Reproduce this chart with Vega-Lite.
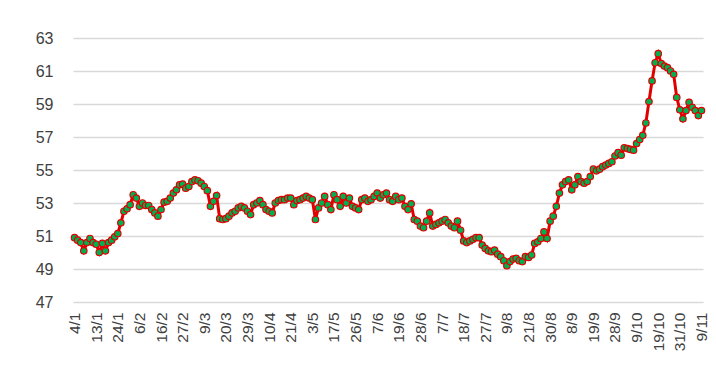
{
  "$schema": "https://vega.github.io/schema/vega-lite/v6.json",
  "width": 630,
  "height": 264,
  "autosize": "none",
  "padding": {"left": 73, "top": 38, "right": 13, "bottom": 65},
  "background": "white",
  "config": {"view": {"stroke": null}, "font": "Liberation Sans"},
  "data": {"values": [
    {"n":0,"v":50.9},{"n":1,"v":50.75},{"n":2,"v":50.6},{"n":3,"v":50.1},{"n":4,"v":50.6},{"n":5,"v":50.85},{"n":6,"v":50.6},{"n":7,"v":50.5},{"n":8,"v":50.0},{"n":9,"v":50.55},
    {"n":10,"v":50.1},{"n":11,"v":50.6},{"n":12,"v":50.75},{"n":13,"v":50.95},{"n":14,"v":51.15},{"n":15,"v":51.8},{"n":16,"v":52.5},{"n":17,"v":52.65},{"n":18,"v":52.9},{"n":19,"v":53.5},
    {"n":20,"v":53.3},{"n":21,"v":52.8},{"n":22,"v":53.0},{"n":23,"v":52.85},{"n":24,"v":52.85},{"n":25,"v":52.6},{"n":26,"v":52.4},{"n":27,"v":52.2},{"n":28,"v":52.6},{"n":29,"v":53.05},
    {"n":30,"v":53.1},{"n":31,"v":53.3},{"n":32,"v":53.6},{"n":33,"v":53.8},{"n":34,"v":54.1},{"n":35,"v":54.15},{"n":36,"v":53.9},{"n":37,"v":54.0},{"n":38,"v":54.3},{"n":39,"v":54.4},
    {"n":40,"v":54.35},{"n":41,"v":54.2},{"n":42,"v":54.0},{"n":43,"v":53.75},{"n":44,"v":52.8},{"n":45,"v":53.1},{"n":46,"v":53.45},{"n":47,"v":52.05},{"n":48,"v":52.0},{"n":49,"v":52.05},
    {"n":50,"v":52.2},{"n":51,"v":52.4},{"n":52,"v":52.5},{"n":53,"v":52.7},{"n":54,"v":52.8},{"n":55,"v":52.7},{"n":56,"v":52.5},{"n":57,"v":52.3},{"n":58,"v":52.9},{"n":59,"v":53.0},
    {"n":60,"v":53.15},{"n":61,"v":52.9},{"n":62,"v":52.6},{"n":63,"v":52.5},{"n":64,"v":52.4},{"n":65,"v":53.0},{"n":66,"v":53.15},{"n":67,"v":53.2},{"n":68,"v":53.2},{"n":69,"v":53.3},
    {"n":70,"v":53.3},{"n":71,"v":52.9},{"n":72,"v":53.15},{"n":73,"v":53.2},{"n":74,"v":53.3},{"n":75,"v":53.4},{"n":76,"v":53.3},{"n":77,"v":53.2},{"n":78,"v":52.0},{"n":79,"v":52.7},
    {"n":80,"v":53.0},{"n":81,"v":53.4},{"n":82,"v":52.9},{"n":83,"v":52.6},{"n":84,"v":53.5},{"n":85,"v":53.2},{"n":86,"v":52.8},{"n":87,"v":53.4},{"n":88,"v":53.0},{"n":89,"v":53.3},
    {"n":90,"v":52.8},{"n":91,"v":52.7},{"n":92,"v":52.6},{"n":93,"v":53.2},{"n":94,"v":53.3},{"n":95,"v":53.1},{"n":96,"v":53.2},{"n":97,"v":53.4},{"n":98,"v":53.6},{"n":99,"v":53.3},
    {"n":100,"v":53.5},{"n":101,"v":53.6},{"n":102,"v":53.2},{"n":103,"v":53.1},{"n":104,"v":53.4},{"n":105,"v":53.2},{"n":106,"v":53.3},{"n":107,"v":52.8},{"n":108,"v":52.6},{"n":109,"v":52.95},
    {"n":110,"v":52.0},{"n":111,"v":51.9},{"n":112,"v":51.6},{"n":113,"v":51.5},{"n":114,"v":51.9},{"n":115,"v":52.4},{"n":116,"v":51.6},{"n":117,"v":51.7},{"n":118,"v":51.8},{"n":119,"v":51.9},
    {"n":120,"v":52.0},{"n":121,"v":51.8},{"n":122,"v":51.6},{"n":123,"v":51.5},{"n":124,"v":51.9},{"n":125,"v":51.35},{"n":126,"v":50.7},{"n":127,"v":50.6},{"n":128,"v":50.7},{"n":129,"v":50.8},
    {"n":130,"v":50.9},{"n":131,"v":50.9},{"n":132,"v":50.45},{"n":133,"v":50.25},{"n":134,"v":50.1},{"n":135,"v":50.05},{"n":136,"v":50.15},{"n":137,"v":49.9},{"n":138,"v":49.75},{"n":139,"v":49.5},
    {"n":140,"v":49.2},{"n":141,"v":49.45},{"n":142,"v":49.6},{"n":143,"v":49.65},{"n":144,"v":49.5},{"n":145,"v":49.45},{"n":146,"v":49.75},{"n":147,"v":49.7},{"n":148,"v":49.85},{"n":149,"v":50.55},
    {"n":150,"v":50.65},{"n":151,"v":50.85},{"n":152,"v":51.25},{"n":153,"v":50.85},{"n":154,"v":51.9},{"n":155,"v":52.2},{"n":156,"v":52.8},{"n":157,"v":53.6},{"n":158,"v":54.1},{"n":159,"v":54.3},
    {"n":160,"v":54.4},{"n":161,"v":53.8},{"n":162,"v":54.1},{"n":163,"v":54.6},{"n":164,"v":54.3},{"n":165,"v":54.2},{"n":166,"v":54.3},{"n":167,"v":54.6},{"n":168,"v":55.05},{"n":169,"v":54.95},
    {"n":170,"v":55.05},{"n":171,"v":55.2},{"n":172,"v":55.3},{"n":173,"v":55.4},{"n":174,"v":55.5},{"n":175,"v":55.85},{"n":176,"v":56.05},{"n":177,"v":55.9},{"n":178,"v":56.35},{"n":179,"v":56.3},
    {"n":180,"v":56.25},{"n":181,"v":56.2},{"n":182,"v":56.6},{"n":183,"v":56.85},{"n":184,"v":57.1},{"n":185,"v":57.85},{"n":186,"v":59.15},{"n":187,"v":60.4},{"n":188,"v":61.5},{"n":189,"v":62.05},
    {"n":190,"v":61.45},{"n":191,"v":61.3},{"n":192,"v":61.2},{"n":193,"v":61.0},{"n":194,"v":60.8},{"n":195,"v":59.4},{"n":196,"v":58.65},{"n":197,"v":58.1},{"n":198,"v":58.6},{"n":199,"v":59.1},
    {"n":200,"v":58.8},{"n":201,"v":58.6},{"n":202,"v":58.3},{"n":203,"v":58.6}
  ]},
  "encoding": {
    "x": {
      "field": "n", "type": "quantitative",
      "scale": {"domain": [-0.5, 203.5], "nice": false, "zero": false},
      "axis": {
        "title": null, "grid": false, "ticks": false, "domain": false,
        "values": [0,7,14,21,28,35,42,49,56,63,70,77,84,91,98,105,112,119,126,133,140,147,154,161,168,175,182,189,196,203],
        "labelExpr": "['4/1','13/1','24/1','6/2','16/2','27/2','9/3','20/3','29/3','10/4','21/4','3/5','17/5','26/5','7/6','19/6','28/6','7/7','18/7','27/7','9/8','21/8','30/8','8/9','19/9','28/9','9/10','19/10','31/10','9/11'][round(datum.value/7)]",
        "labelAngle": -90, "labelAlign": "right", "labelBaseline": "middle",
        "labelFontSize": 15.5, "labelColor": "#404040", "labelPadding": 10,
        "labelOverlap": false, "labelFlush": false
      }
    },
    "y": {
      "field": "v", "type": "quantitative",
      "scale": {"domain": [47, 63], "nice": false, "zero": false},
      "axis": {
        "title": null, "values": [47,49,51,53,55,57,59,61,63],
        "grid": true, "gridColor": "#d9d9d9", "gridWidth": 1.5,
        "domain": false, "ticks": false,
        "labelFontSize": 16, "labelColor": "#404040", "labelPadding": 20
      }
    }
  },
  "layer": [
    {"mark": {"type": "line", "color": "#e00000", "strokeWidth": 3}},
    {"mark": {"type": "point", "shape": "circle", "filled": true, "fill": "#00b050", "stroke": "#e00000", "strokeWidth": 1.2, "size": 42, "opacity": 1}}
  ]
}
